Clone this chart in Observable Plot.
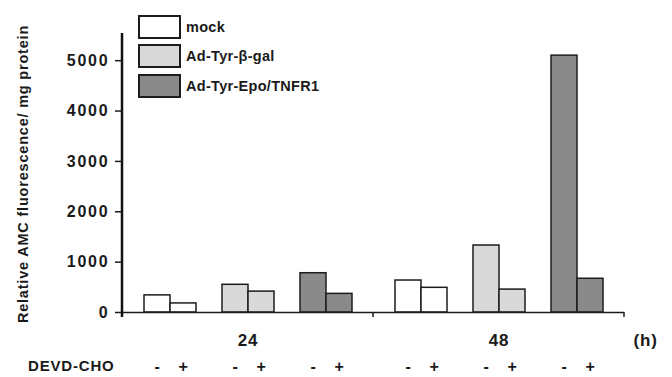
<!DOCTYPE html>
<html>
<head>
<meta charset="utf-8">
<script src="https://cdn.jsdelivr.net/npm/d3@7"></script>
<script src="https://cdn.jsdelivr.net/npm/@observablehq/plot@0.6"></script>
<style>
  html, body { margin: 0; padding: 0; background: #fff; }
  #wrap { position: relative; width: 672px; height: 377px; font-family: "Liberation Sans", Arial, sans-serif; }
  #legend { position: absolute; left: 138px; top: 12px; }
  .item { display: flex; align-items: center; height: 29.5px; }
  .sw { width: 39px; height: 20px; border: 2px solid #1c1c1c; box-sizing: content-box; margin-right: 5px; }
  .lab { font-weight: bold; font-size: 14.5px; color: #1a1a1a; letter-spacing: 0.3px; }
  svg { font-family: "Liberation Sans", Arial, sans-serif; font-weight: bold; letter-spacing: 0.8px; }
  svg g[aria-label="y-axis tick label"] text { letter-spacing: 1.8px; }
</style>
</head>
<body>
<div id="wrap"><div id="legend"></div></div>
<script>
const hours = ["24", "48"];
const groups = ["mock", "Ad-Tyr-β-gal", "Ad-Tyr-Epo/TNFR1"];
const devd = ["-", "+"];
const values24 = [340, 180, 550, 415, 780, 370];
const values48 = [635, 490, 1330, 455, 5100, 670];
const yTicks = [0, 1000, 2000, 3000, 4000, 5000];
const fills = ["#ffffff", "#d9d9d9", "#8a8a8a"];
const yLabel = "Relative AMC fluorescence/ mg protein";
const treatLabel = "DEVD-CHO";
const unitLabel = "(h)";

const slotDomain = ["0-", "0+", "gap1", "1-", "1+", "gap2", "2-", "2+"];
const rows = hours.flatMap((h, hi) => (hi ? values48 : values24).map((v, i) => ({
  hour: h, group: groups[i >> 1], devd: devd[i % 2], slot: `${i >> 1}${devd[i % 2]}`, value: v
})));

const ink = "#1c1c1c";

// axis lines: y-axis line on the first facet, small tick at right edge of each facet
const axisLines = Plot.ruleY(hours, {
  fx: d => d,
  y: () => 0,
  render: (index, scales, values, dims, context) => {
    const g = d3.create("svg:g");
    const xr = scales.x.range();
    const yr = scales.y.range();
    const y0 = scales.y(0);
    g.append("rect").attr("x", xr[1] - 0.75).attr("width", 1.5).attr("y", y0).attr("height", 5)
      .attr("fill", ink).attr("stroke", "none");
    if (index.length && index[0] === 0) {
      g.append("rect").attr("x", xr[0] - 1.25).attr("width", 2.5).attr("y", yr[1] - 2).attr("height", yr[0] - yr[1] + 7)
        .attr("fill", "#111111").attr("stroke", "none");
    }
    return g.node();
  }
});

const chart = Plot.plot({
  width: 672, height: 377,
  marginLeft: 121, marginRight: 48, marginTop: 35, marginBottom: 65,
  fx: { domain: hours, padding: 0, axis: null },
  x: { domain: slotDomain, paddingInner: 0, paddingOuter: 0.7, axis: null },
  y: { domain: [0, 5500], axis: null },
  color: { domain: groups, range: fills },
  marks: [
    Plot.barY(rows, { fx: "hour", x: "slot", y: "value", fill: "group", stroke: ink, strokeWidth: 1.5 }),
    Plot.ruleY([0], { stroke: ink, strokeWidth: 1.5 }),
    Plot.axisY(yTicks, { anchor: "left", facetAnchor: "left", tickSize: 7, tickPadding: 6, fontSize: 16, fontWeight: "bold", tickFormat: d => String(d), label: null, stroke: ink, strokeWidth: 1.5, fill: "#1a1a1a" }),
    Plot.text([yLabel], { fx: () => "24", text: d => d, frameAnchor: "left", textAnchor: "middle", rotate: -90, dx: -99, fontSize: 14.5, fontWeight: "bold", fill: "#1a1a1a" }),
    Plot.text(hours, { fx: d => d, text: d => d, frameAnchor: "bottom", lineAnchor: "middle", dy: 28, fontSize: 17, fontWeight: "bold", fill: "#1a1a1a" }),
    Plot.text(rows, { fx: "hour", x: "slot", text: "devd", frameAnchor: "bottom", lineAnchor: "middle", dy: 54, fontSize: 16, fontWeight: "bold", fill: "#1a1a1a" }),
    Plot.text([treatLabel], { fx: () => "24", text: d => d, frameAnchor: "bottom-left", textAnchor: "end", lineAnchor: "middle", dx: -8, dy: 54, fontSize: 15, fontWeight: "bold", fill: "#1a1a1a" }),
    Plot.text([unitLabel], { fx: () => "48", text: d => d, frameAnchor: "bottom-right", textAnchor: "start", lineAnchor: "middle", dx: 9, dy: 28, fontSize: 17, fontWeight: "bold", fill: "#1a1a1a" }),
    axisLines
  ]
});
document.getElementById("wrap").appendChild(chart);

const legend = document.getElementById("legend");
groups.forEach((g, i) => {
  const item = document.createElement("div");
  item.className = "item";
  const sw = document.createElement("div");
  sw.className = "sw";
  sw.style.background = fills[i];
  const lab = document.createElement("span");
  lab.className = "lab";
  lab.textContent = g;
  item.appendChild(sw);
  item.appendChild(lab);
  legend.appendChild(item);
});
</script>
</body>
</html>
